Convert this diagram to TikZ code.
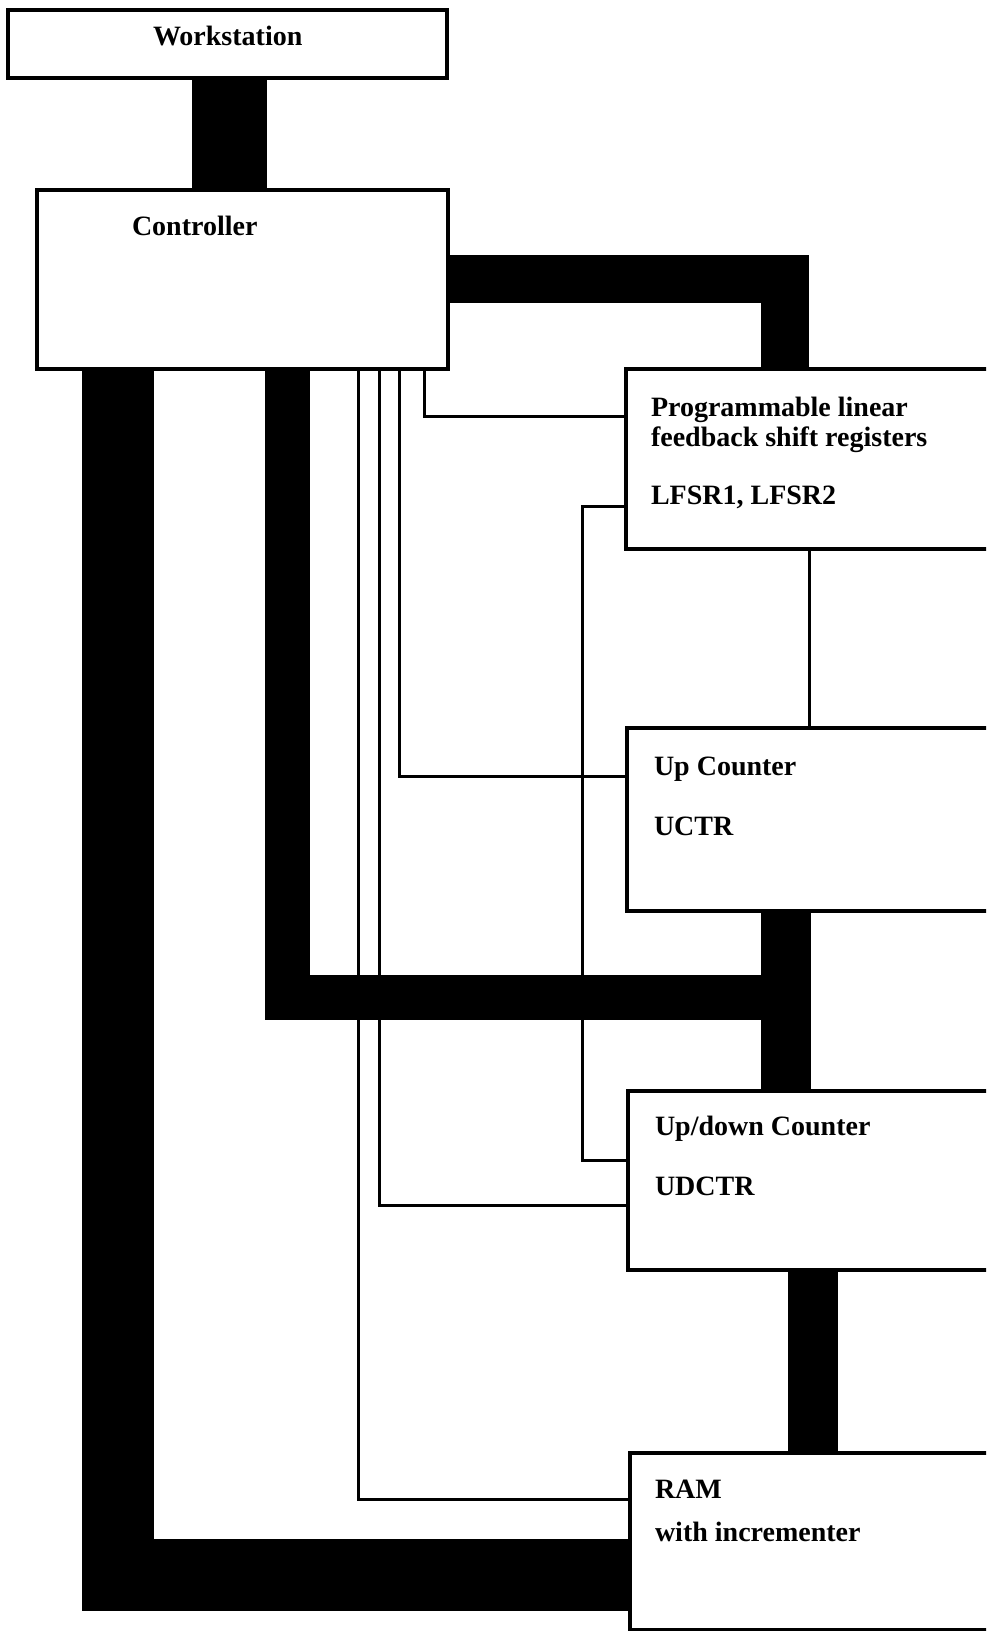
\documentclass[tikz,border=0pt]{standalone}
\usepackage{fontspec}
\setmainfont{Liberation Serif}
\begin{document}
\begin{tikzpicture}[x=1pt,y=-1pt]
\tikzset{
  box/.style={draw, line width=3.2pt, rectangle, inner sep=0pt, outer sep=0pt, anchor=north west, fill=white},
  lbl/.style={anchor=base west, inner sep=0pt, outer sep=0pt, font=\fontsize{28}{30}\selectfont\bfseries},
  wire/.style={line width=3pt, line join=miter},
  bus/.style={draw=black, line join=miter, line cap=butt},
}
\useasboundingbox (0,0) rectangle (986,1631);
\clip (0,0) rectangle (986,1631);
\fill[white] (0,0) rectangle (986,1631);

% boxes
\node[box, minimum width=439pt, minimum height=68pt] (ws) at (8,10) {};
\node[box, minimum width=411pt, minimum height=179pt] (ctrl) at (37,190) {};
\node[box, minimum width=400pt, minimum height=180pt] (lfsr) at (626,369) {};
\node[box, minimum width=400pt, minimum height=183pt] (uctr) at (627,728) {};
\node[box, minimum width=400pt, minimum height=179pt] (udctr) at (628,1091) {};
\node[box, minimum width=400pt, minimum height=177pt] (ram) at (630,1453) {};

% bus coordinates
\coordinate (wsx) at (229.5,0);
\coordinate (b2c) at (784.5,278.5);
\coordinate (b3a) at (287,997);
\coordinate (b3b) at (786,997);
\coordinate (b4c) at (812.5,0);
\coordinate (b5c) at (117.5,1575);

% buses
\draw[bus, line width=75pt] (ws.south -| wsx) -- (ctrl.north -| wsx);
\draw[bus, line width=48pt] (ctrl.east |- b2c) -| (lfsr.north -| b2c);
\draw[bus, line width=45pt] (ctrl.south -| b3a) |- (b3b);
\draw[bus, line width=50pt] (uctr.south -| b3b) -- (udctr.north -| b3b);
\draw[bus, line width=50pt] (udctr.south -| b4c) -- (ram.north -| b4c);
\draw[bus, line width=72pt] (ctrl.south -| b5c) |- (ram.west |- b5c);

% wire coordinates
\coordinate (w4) at (424,416);
\coordinate (w3) at (399,776);
\coordinate (w2) at (379,1205);
\coordinate (w1) at (358,1499);
\coordinate (w5a) at (582,506);
\coordinate (w5b) at (582,1160);
\coordinate (w6) at (809,0);

% wires
\draw[wire] (ctrl.south -| w4) |- (lfsr.west |- w4);
\draw[wire] (ctrl.south -| w3) |- (uctr.west |- w3);
\draw[wire] (ctrl.south -| w2) |- (udctr.west |- w2);
\draw[wire] (ctrl.south -| w1) |- (ram.west |- w1);
\draw[wire] (lfsr.west |- w5a) -- (w5a) -- (w5b) -- (udctr.west |- w5b);
\draw[wire] (lfsr.south -| w6) -- (uctr.north -| w6);

% labels
\node[lbl] (tws) at (153,45) {Workstation};
\node[lbl] (tctrl) at (132,235) {Controller};
\node[lbl] (tl1) at (651,416) {Programmable linear};
\node[lbl] (tl2) at (651,446) {feedback shift registers};
\node[lbl] (tl3) at (651,504) {LFSR1, LFSR2};
\node[lbl] (tu1) at (654,775) {Up Counter};
\node[lbl] (tu2) at (654,835) {UCTR};
\node[lbl] (td1) at (655,1135) {Up/down Counter};
\node[lbl] (td2) at (655,1195) {UDCTR};
\node[lbl] (tr1) at (655,1498) {RAM};
\node[lbl] (tr2) at (655,1541) {with incrementer};
\end{tikzpicture}
\end{document}
